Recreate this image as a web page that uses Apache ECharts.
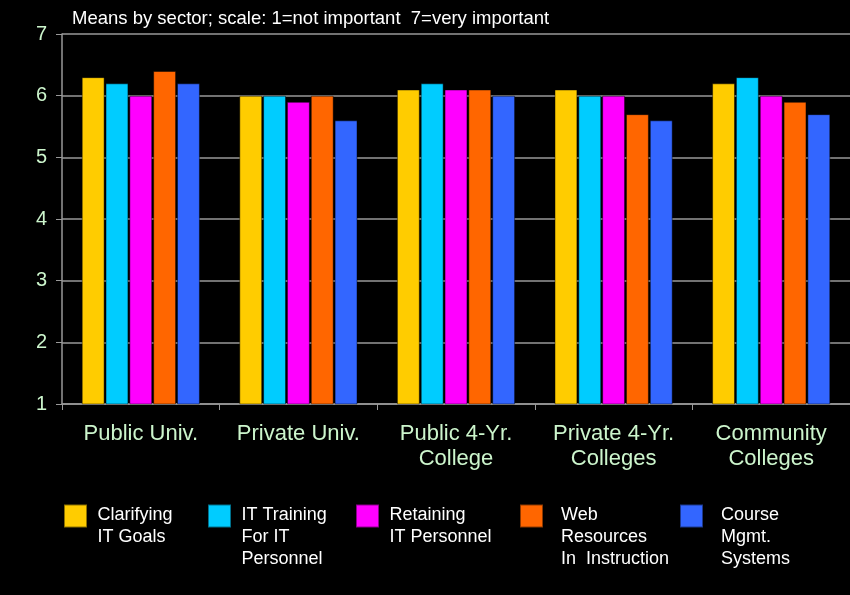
<!DOCTYPE html>
<html>
<head>
<meta charset="utf-8">
<script src="https://cdn.jsdelivr.net/npm/echarts@6/dist/echarts.min.js"></script>
<style>
html,body{margin:0;padding:0;background:#000;}
#chart{width:850px;height:595px;}
</style>
</head>
<body>
<div id="chart"></div>
<script>
const titleText = 'Means by sector; scale: 1=not important  7=very important';
const categories = ['Public Univ.', 'Private Univ.', 'Public 4-Yr.\nCollege', 'Private 4-Yr.\nColleges', 'Community\nColleges'];
const seriesNames = ['Clarifying IT Goals', 'IT Training For IT Personnel', 'Retaining IT Personnel', 'Web Resources In Instruction', 'Course Mgmt. Systems'];
const legendLabels = ['Clarifying\nIT Goals\n ', 'IT Training\nFor IT\nPersonnel', 'Retaining\nIT Personnel\n ', 'Web\nResources\nIn  Instruction', 'Course\nMgmt.\nSystems'];
const clarifying = [6.3, 6.0, 6.1, 6.1, 6.2];
const itTraining = [6.2, 6.0, 6.2, 6.0, 6.3];
const retaining = [6.0, 5.9, 6.1, 6.0, 6.0];
const webResources = [6.4, 6.0, 6.1, 5.7, 5.9];
const courseMgmt = [6.2, 5.6, 6.0, 5.6, 5.7];
const seriesValues = [clarifying, itTraining, retaining, webResources, courseMgmt];
const colors = ['#FFCC00', '#00CCFF', '#FF00FF', '#FF6600', '#3366FF'];
const yTicks = [1, 2, 3, 4, 5, 6, 7];

const legendLefts = [63, 207, 355, 519, 679];
const legendTextGaps = [5.5, 5.5, 5.5, 13, 13];

const chart = echarts.init(document.getElementById('chart'), null, {renderer: 'canvas'});
const fontFamily = '"Liberation Sans", Arial, sans-serif';

const legends = seriesNames.map((name, i) => ({
  data: [name],
  left: legendLefts[i],
  top: 462,
  padding: 0,
  orient: 'horizontal',
  itemWidth: 23,
  itemHeight: 23,
  icon: 'rect',
  selectedMode: false,
  formatter: () => '{sp| }\n' + legendLabels[i].split('\n').map(s => '{t|' + s + '}').join('\n'),
  textStyle: {
    color: '#ffffff',
    fontSize: 18,
    fontFamily: fontFamily,
    lineHeight: 22,
    rich: {
      sp: {lineHeight: 42, fontSize: 18, padding: [0, 0, 0, legendTextGaps[i]]},
      t: {color: '#ffffff', fontSize: 18, fontFamily: fontFamily, lineHeight: 22, padding: [0, 0, 0, legendTextGaps[i]]}
    }
  }
}));

const option = {
  backgroundColor: '#000000',
  animation: false,
  color: colors,
  title: {
    text: titleText,
    left: 72,
    top: 9,
    padding: 0,
    textStyle: {color: '#ffffff', fontSize: 18.5, fontWeight: 'normal', fontFamily: fontFamily}
  },
  legend: legends,
  grid: {left: 62, top: 34, width: 793, height: 370, containLabel: false},
  xAxis: {
    type: 'category',
    data: categories,
    axisLine: {show: true, lineStyle: {color: '#999999', width: 1.5}},
    axisTick: {show: true, length: 6, inside: false, lineStyle: {color: '#999999'}},
    axisLabel: {
      color: '#CCF5CC',
      fontSize: 22,
      fontFamily: fontFamily,
      lineHeight: 25,
      margin: 17,
      interval: 0
    },
    splitLine: {show: false}
  },
  yAxis: {
    type: 'value',
    min: yTicks[0],
    max: yTicks[yTicks.length - 1],
    interval: 1,
    axisLine: {show: true, lineStyle: {color: '#999999', width: 1.5}},
    axisTick: {show: true, length: 6, inside: false, lineStyle: {color: '#999999'}},
    axisLabel: {color: '#CCF5CC', fontSize: 20, fontFamily: fontFamily, margin: 15},
    splitLine: {show: true, lineStyle: {color: '#999999', width: 1.5}}
  },
  series: seriesNames.map((name, i) => ({
    name: name,
    type: 'bar',
    data: seriesValues[i],
    barGap: '4%',
    barCategoryGap: '25%',
    itemStyle: {color: colors[i], borderColor: 'rgba(0,0,0,0.45)', borderWidth: 1}
  }))
};
chart.setOption(option);
</script>
</body>
</html>
